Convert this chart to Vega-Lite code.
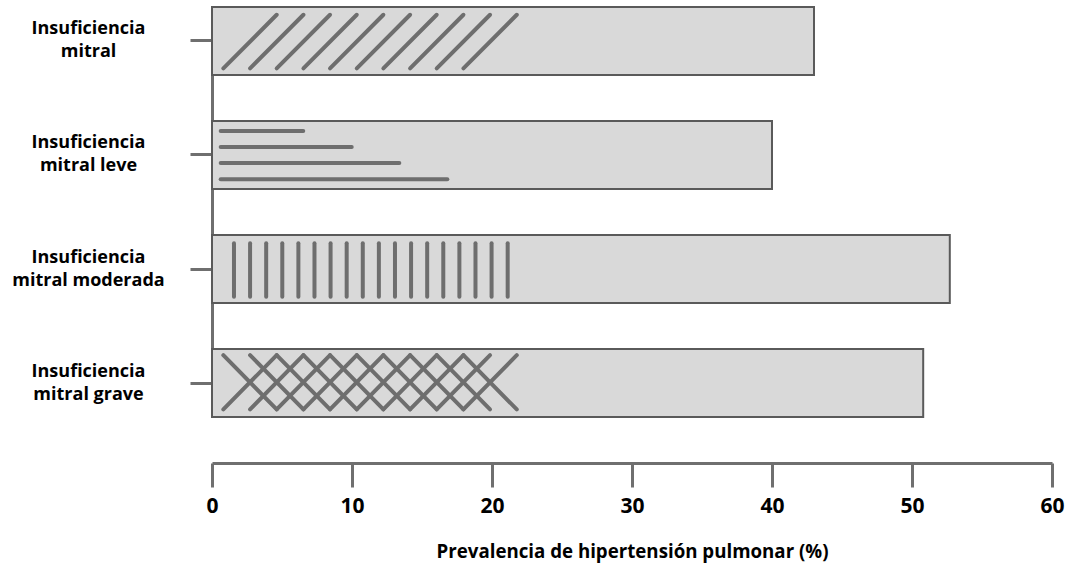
{
  "$schema": "https://vega.github.io/schema/vega-lite/v6.json",
  "width": 840,
  "height": 463,
  "autosize": {"type": "none"},
  "padding": {"left": 212, "top": 0, "right": 16, "bottom": 104},
  "background": "white",
  "config": {
    "view": {"stroke": null},
    "font": "Open Sans"
  },
  "datasets": {
    "barras": [
      {"grupo": "Insuficiencia mitral", "prevalencia": 43.0},
      {"grupo": "Insuficiencia mitral leve", "prevalencia": 40.0},
      {"grupo": "Insuficiencia mitral moderada", "prevalencia": 52.7},
      {"grupo": "Insuficiencia mitral grave", "prevalencia": 50.8}
    ],
    "trama": [
      {"x_start": 0.81, "x_end": 4.62, "y_start": 0.24, "y_end": -0.23},
      {"x_start": 2.72, "x_end": 6.53, "y_start": 0.24, "y_end": -0.23},
      {"x_start": 4.62, "x_end": 8.43, "y_start": 0.24, "y_end": -0.23},
      {"x_start": 6.53, "x_end": 10.34, "y_start": 0.24, "y_end": -0.23},
      {"x_start": 8.43, "x_end": 12.24, "y_start": 0.24, "y_end": -0.23},
      {"x_start": 10.34, "x_end": 14.15, "y_start": 0.24, "y_end": -0.23},
      {"x_start": 12.24, "x_end": 16.05, "y_start": 0.24, "y_end": -0.23},
      {"x_start": 14.15, "x_end": 17.96, "y_start": 0.24, "y_end": -0.23},
      {"x_start": 16.05, "x_end": 19.86, "y_start": 0.24, "y_end": -0.23},
      {"x_start": 17.96, "x_end": 21.77, "y_start": 0.24, "y_end": -0.23},

      {"x_start": 0.62, "x_end": 6.52, "y_start": 0.79, "y_end": 0.79},
      {"x_start": 0.62, "x_end": 9.98, "y_start": 0.93, "y_end": 0.93},
      {"x_start": 0.62, "x_end": 13.38, "y_start": 1.07, "y_end": 1.07},
      {"x_start": 0.62, "x_end": 16.81, "y_start": 1.213, "y_end": 1.213},

      {"x_start": 1.57, "x_end": 1.57, "y_start": 2.243, "y_end": 1.775},
      {"x_start": 2.72, "x_end": 2.72, "y_start": 2.243, "y_end": 1.775},
      {"x_start": 3.87, "x_end": 3.87, "y_start": 2.243, "y_end": 1.775},
      {"x_start": 5.02, "x_end": 5.02, "y_start": 2.243, "y_end": 1.775},
      {"x_start": 6.17, "x_end": 6.17, "y_start": 2.243, "y_end": 1.775},
      {"x_start": 7.32, "x_end": 7.32, "y_start": 2.243, "y_end": 1.775},
      {"x_start": 8.47, "x_end": 8.47, "y_start": 2.243, "y_end": 1.775},
      {"x_start": 9.62, "x_end": 9.62, "y_start": 2.243, "y_end": 1.775},
      {"x_start": 10.77, "x_end": 10.77, "y_start": 2.243, "y_end": 1.775},
      {"x_start": 11.92, "x_end": 11.92, "y_start": 2.243, "y_end": 1.775},
      {"x_start": 13.07, "x_end": 13.07, "y_start": 2.243, "y_end": 1.775},
      {"x_start": 14.22, "x_end": 14.22, "y_start": 2.243, "y_end": 1.775},
      {"x_start": 15.37, "x_end": 15.37, "y_start": 2.243, "y_end": 1.775},
      {"x_start": 16.52, "x_end": 16.52, "y_start": 2.243, "y_end": 1.775},
      {"x_start": 17.67, "x_end": 17.67, "y_start": 2.243, "y_end": 1.775},
      {"x_start": 18.82, "x_end": 18.82, "y_start": 2.243, "y_end": 1.775},
      {"x_start": 19.97, "x_end": 19.97, "y_start": 2.243, "y_end": 1.775},
      {"x_start": 21.12, "x_end": 21.12, "y_start": 2.243, "y_end": 1.775},

      {"x_start": 0.81, "x_end": 4.62, "y_start": 3.232, "y_end": 2.756},
      {"x_start": 2.72, "x_end": 6.53, "y_start": 3.232, "y_end": 2.756},
      {"x_start": 4.62, "x_end": 8.43, "y_start": 3.232, "y_end": 2.756},
      {"x_start": 6.53, "x_end": 10.34, "y_start": 3.232, "y_end": 2.756},
      {"x_start": 8.43, "x_end": 12.24, "y_start": 3.232, "y_end": 2.756},
      {"x_start": 10.34, "x_end": 14.15, "y_start": 3.232, "y_end": 2.756},
      {"x_start": 12.24, "x_end": 16.05, "y_start": 3.232, "y_end": 2.756},
      {"x_start": 14.15, "x_end": 17.96, "y_start": 3.232, "y_end": 2.756},
      {"x_start": 16.05, "x_end": 19.86, "y_start": 3.232, "y_end": 2.756},
      {"x_start": 17.96, "x_end": 21.77, "y_start": 3.232, "y_end": 2.756},
      {"x_start": 0.81, "x_end": 4.62, "y_start": 2.756, "y_end": 3.232},
      {"x_start": 2.72, "x_end": 6.53, "y_start": 2.756, "y_end": 3.232},
      {"x_start": 4.62, "x_end": 8.43, "y_start": 2.756, "y_end": 3.232},
      {"x_start": 6.53, "x_end": 10.34, "y_start": 2.756, "y_end": 3.232},
      {"x_start": 8.43, "x_end": 12.24, "y_start": 2.756, "y_end": 3.232},
      {"x_start": 10.34, "x_end": 14.15, "y_start": 2.756, "y_end": 3.232},
      {"x_start": 12.24, "x_end": 16.05, "y_start": 2.756, "y_end": 3.232},
      {"x_start": 14.15, "x_end": 17.96, "y_start": 2.756, "y_end": 3.232},
      {"x_start": 16.05, "x_end": 19.86, "y_start": 2.756, "y_end": 3.232},
      {"x_start": 17.96, "x_end": 21.77, "y_start": 2.756, "y_end": 3.232}
    ]
  },
  "layer": [
    {
      "data": {"name": "barras"},
      "mark": {"type": "bar", "fill": "#d9d9d9", "stroke": "#5a5a5a", "strokeWidth": 2},
      "encoding": {
        "y": {
          "field": "grupo",
          "type": "nominal",
          "sort": null,
          "scale": {"range": [7, 417], "paddingInner": 0.40351, "paddingOuter": 0},
          "axis": {
            "title": null,
            "labelExpr": "['Insuficiencia', replace(datum.label, 'Insuficiencia ', '')]",
            "labelAlign": "center",
            "labelBaseline": "middle",
            "labelOffset": -11.5,
            "labelPadding": 102,
            "labelFont": "Open Sans",
            "labelFontWeight": "bold",
            "labelFontSize": 18,
            "labelLineHeight": 23,
            "labelColor": "#000000",
            "labelLimit": 300,
            "tickSize": 22,
            "tickWidth": 3,
            "tickColor": "#6f6f6f",
            "domainColor": "#6f6f6f",
            "domainWidth": 3,
            "grid": false
          }
        },
        "x": {
          "field": "prevalencia",
          "type": "quantitative",
          "scale": {"domain": [0, 60], "nice": false},
          "axis": {
            "values": [0, 10, 20, 30, 40, 50, 60],
            "title": "Prevalencia de hipertensión pulmonar (%)",
            "titleFont": "Open Sans",
            "titleFontWeight": "bold",
            "titleFontSize": 18.7,
            "titleColor": "#000000",
            "titlePadding": 26,
            "labelFont": "Open Sans",
            "labelFontWeight": "bold",
            "labelFontSize": 21,
            "labelColor": "#000000",
            "labelPadding": 8,
            "labelFlush": false,
            "tickSize": 24,
            "tickWidth": 3,
            "tickColor": "#6f6f6f",
            "domainColor": "#6f6f6f",
            "domainWidth": 3,
            "grid": false
          }
        }
      }
    },
    {
      "data": {"name": "trama"},
      "mark": {"type": "rule", "stroke": "#6e6e6e", "strokeWidth": 4, "strokeCap": "round"},
      "encoding": {
        "x": {"field": "x_start", "type": "quantitative"},
        "x2": {"field": "x_end"},
        "y": {
          "field": "y_start",
          "type": "quantitative",
          "scale": {"domain": [-0.35965, 3.70175], "reverse": true, "nice": false, "zero": false},
          "axis": null
        },
        "y2": {"field": "y_end"}
      }
    }
  ],
  "resolve": {"scale": {"y": "independent"}}
}
